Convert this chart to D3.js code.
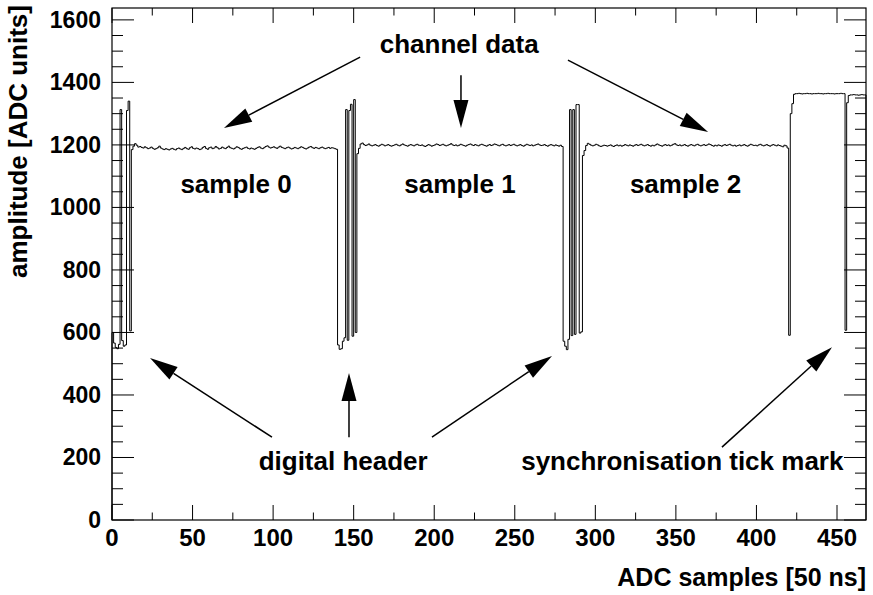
<!DOCTYPE html>
<html>
<head>
<meta charset="utf-8">
<script src="https://cdn.jsdelivr.net/npm/d3@7"></script>
<style>
  body { margin: 0; background: #fff; }
  text { font-family: "Liberation Sans", Arial, sans-serif; font-weight: bold; fill: #000; }
</style>
</head>
<body>
<div id="chart"></div>
<script>
// APV-style readout frames: header bits, 128 channels, then the sync tick
let header0 = [600, 566, 552, 548, 562, 1313, 574, 556, 560, 1310, 1340, 605];
let channels0 = [
  1185,1196,1204,1199,1193,1195,1192,1190,1194,1191,
  1188,1190,1193,1189,1186,1188,1191,1196,1190,1187,
  1185,1188,1186,1184,1187,1189,1186,1184,1188,1190,
  1187,1185,1189,1192,1188,1186,1191,1194,1189,1187,
  1190,1188,1185,1187,1192,1195,1189,1186,1191,1193,
  1188,1190,1195,1191,1187,1189,1193,1190,1188,1192,
  1196,1191,1189,1187,1190,1194,1192,1188,1186,1189,
  1191,1193,1189,1187,1190,1188,1186,1189,1192,1194,
  1190,1188,1191,1195,1197,1193,1190,1192,1194,1191,
  1189,1193,1196,1192,1190,1188,1191,1193,1190,1187,
  1189,1192,1190,1188,1191,1194,1192,1189,1187,1190,
  1193,1195,1191,1189,1192,1190,1188,1191,1193,1190,
  1188,1190,1192,1189,1191,1190,1188,1186
];
let header1 = [560, 546, 548, 572, 583, 1313, 575, 1310, 1330, 588, 1345, 600];
let channels1 = [
  1172,1189,1203,1206,1201,1198,1200,1203,1199,1197,
  1199,1201,1198,1196,1199,1202,1200,1197,1199,1201,
  1198,1196,1198,1200,1202,1199,1197,1200,1203,1200,
  1198,1196,1199,1201,1199,1197,1200,1202,1199,1198,
  1200,1197,1195,1198,1201,1199,1196,1198,1200,1203,
  1201,1198,1200,1202,1199,1197,1199,1201,1204,1200,
  1198,1200,1197,1199,1202,1200,1198,1196,1199,1201,
  1203,1200,1198,1201,1199,1197,1200,1202,1200,1198,
  1196,1199,1201,1198,1200,1203,1201,1199,1197,1200,
  1202,1199,1197,1199,1201,1198,1200,1202,1199,1197,
  1199,1201,1198,1196,1199,1202,1200,1198,1200,1197,
  1199,1201,1203,1200,1198,1199,1201,1198,1196,1199,
  1201,1199,1197,1200,1198,1196,1199,1195
];
let header2 = [572, 556, 545, 578, 1313, 590, 1313, 594, 1329, 1329, 598, 602];
let channels2 = [
  1166,1182,1198,1205,1202,1199,1197,1199,1202,1200,
  1197,1195,1197,1199,1198,1196,1198,1200,1197,1195,
  1198,1200,1197,1199,1196,1198,1201,1199,1197,1200,
  1198,1196,1199,1201,1198,1200,1202,1199,1197,1199,
  1201,1198,1196,1199,1197,1200,1203,1200,1198,1196,
  1199,1201,1198,1200,1197,1199,1202,1204,1200,1198,
  1200,1197,1199,1201,1198,1196,1199,1201,1199,1197,
  1200,1202,1199,1197,1199,1201,1198,1200,1203,1201,
  1198,1196,1199,1197,1200,1198,1196,1199,1201,1198,
  1200,1202,1199,1197,1199,1196,1198,1200,1197,1199,
  1201,1198,1196,1199,1202,1200,1198,1199,1197,1200,
  1202,1199,1197,1199,1201,1198,1196,1199,1201,1199,
  1197,1200,1198,1196,1194,1199,1197,1190
];
let syncTick = [
  591,1300,1332,1362,1364,1364,1365,1364,1363,1364,
  1364,1365,1364,1364,1363,1364,1364,1364,1365,1364,
  1364,1363,1364,1364,1365,1364,1364,1364,1363,1364,
  1364,1364,1365,1364,1364,607,1335,1358,1360,1360,
  1361,1360,1360,1359,1360,1361,1360,1360
];

let xTicks = [0, 50, 100, 150, 200, 250, 300, 350, 400, 450];
let yTicks = [0, 200, 400, 600, 800, 1000, 1200, 1400, 1600];

let labels = [
  {text: "channel data", x: 215.5, y: 1494, anchor: "middle"},
  {text: "sample 0", x: 77, y: 1046, anchor: "middle"},
  {text: "sample 1", x: 216, y: 1046, anchor: "middle"},
  {text: "sample 2", x: 356, y: 1046, anchor: "middle"},
  {text: "digital header", x: 143.5, y: 160, anchor: "middle"},
  {text: "synchronisation tick mark", x: 354, y: 160, anchor: "middle"}
];
// arrows in data units: tail -> head
let arrows = [
  [154, 1481, 69.5, 1254],
  [216.6, 1423, 216.6, 1254],
  [283, 1471, 370, 1241],
  [147.1, 265, 147.1, 470],
  [99.3, 265, 23.6, 518],
  [198.6, 265, 273.1, 525],
  [378.6, 233, 446.9, 553]
];

let values = [].concat(header0, channels0, header1, channels1, header2, channels2, syncTick);

let margin = {top: 8, left: 112, right: 7, bottom: 75},
  W = 873, H = 595,
  width = W - margin.left - margin.right,
  height = H - margin.top - margin.bottom;

let svg = d3.select('#chart').append('svg')
  .attr('width', W).attr('height', H);

let x = d3.scaleLinear().domain([0, 468]).range([margin.left, margin.left + width]);
let y = d3.scaleLinear().domain([0, 1638]).range([margin.top + height, margin.top]);

// histogram outline, ROOT style: starts and ends on the baseline
let pts = [[0, 0]];
values.forEach((v, i) => { pts.push([i, v]); });
pts.push([values.length, values[values.length - 1]]);
pts.push([values.length, 0]);
let line = d3.line().x(d => x(d[0])).y(d => y(d[1])).curve(d3.curveStepAfter);
svg.append('path')
  .attr('d', line(pts))
  .attr('fill', 'none')
  .attr('stroke', '#000')
  .attr('stroke-width', 1);

// axes (ticks inward on all four sides)
let xMinor = d3.range(0, 469, 25), yMinor = d3.range(0, 1638, 50);
let yB = margin.top + height, yT = margin.top;
let xL = margin.left, xR = margin.left + width;
let g = svg.append('g').attr('stroke', '#000').attr('stroke-width', 1);
xMinor.forEach(t => {
  let len = t % 50 === 0 ? 15 : 7.5;
  g.append('line').attr('x1', x(t)).attr('x2', x(t)).attr('y1', yB).attr('y2', yB - len);
  g.append('line').attr('x1', x(t)).attr('x2', x(t)).attr('y1', yT).attr('y2', yT + len);
});
yMinor.forEach(t => {
  let len = t % 200 === 0 ? 22 : 11;
  g.append('line').attr('y1', y(t)).attr('y2', y(t)).attr('x1', xL).attr('x2', xL + len);
  g.append('line').attr('y1', y(t)).attr('y2', y(t)).attr('x1', xR).attr('x2', xR - len);
});
svg.append('rect')
  .attr('x', xL).attr('y', yT).attr('width', width).attr('height', height)
  .attr('fill', 'none').attr('stroke', '#000').attr('stroke-width', 1.2);

svg.selectAll('.xl').data(xTicks).enter().append('text')
  .attr('x', d => x(d)).attr('y', yB + 26)
  .attr('text-anchor', 'middle').style('font-size', '24px')
  .text(d => d);
svg.selectAll('.yl').data(yTicks).enter().append('text')
  .attr('x', xL - 11).attr('y', d => y(d) + 8)
  .attr('text-anchor', 'end').style('font-size', '23px')
  .text(d => d);

svg.append('text')
  .attr('x', xR).attr('y', 586)
  .attr('text-anchor', 'end').style('font-size', '25px')
  .text('ADC samples [50 ns]');
svg.append('text')
  .attr('transform', 'translate(27,5) rotate(-90)')
  .attr('text-anchor', 'end').style('font-size', '26px')
  .text('amplitude [ADC units]');

svg.selectAll('.ann').data(labels).enter().append('text')
  .attr('x', d => x(d.x)).attr('y', d => y(d.y))
  .attr('text-anchor', d => d.anchor).style('font-size', '26px')
  .text(d => d.text);

// arrows with filled heads
arrows.forEach(a => {
  let x1 = x(a[0]), y1 = y(a[1]), x2 = x(a[2]), y2 = y(a[3]);
  let ang = Math.atan2(y2 - y1, x2 - x1), hl = 28, hw = 7.5;
  let bx = x2 - hl * Math.cos(ang), by = y2 - hl * Math.sin(ang);
  svg.append('line').attr('x1', x1).attr('y1', y1).attr('x2', bx).attr('y2', by)
    .attr('stroke', '#000').attr('stroke-width', 1.5);
  let p = [[x2, y2],
    [bx + hw * Math.sin(ang), by - hw * Math.cos(ang)],
    [bx - hw * Math.sin(ang), by + hw * Math.cos(ang)]];
  svg.append('path').attr('d', 'M' + p.join('L') + 'Z').attr('fill', '#000');
});
</script>
</body>
</html>
